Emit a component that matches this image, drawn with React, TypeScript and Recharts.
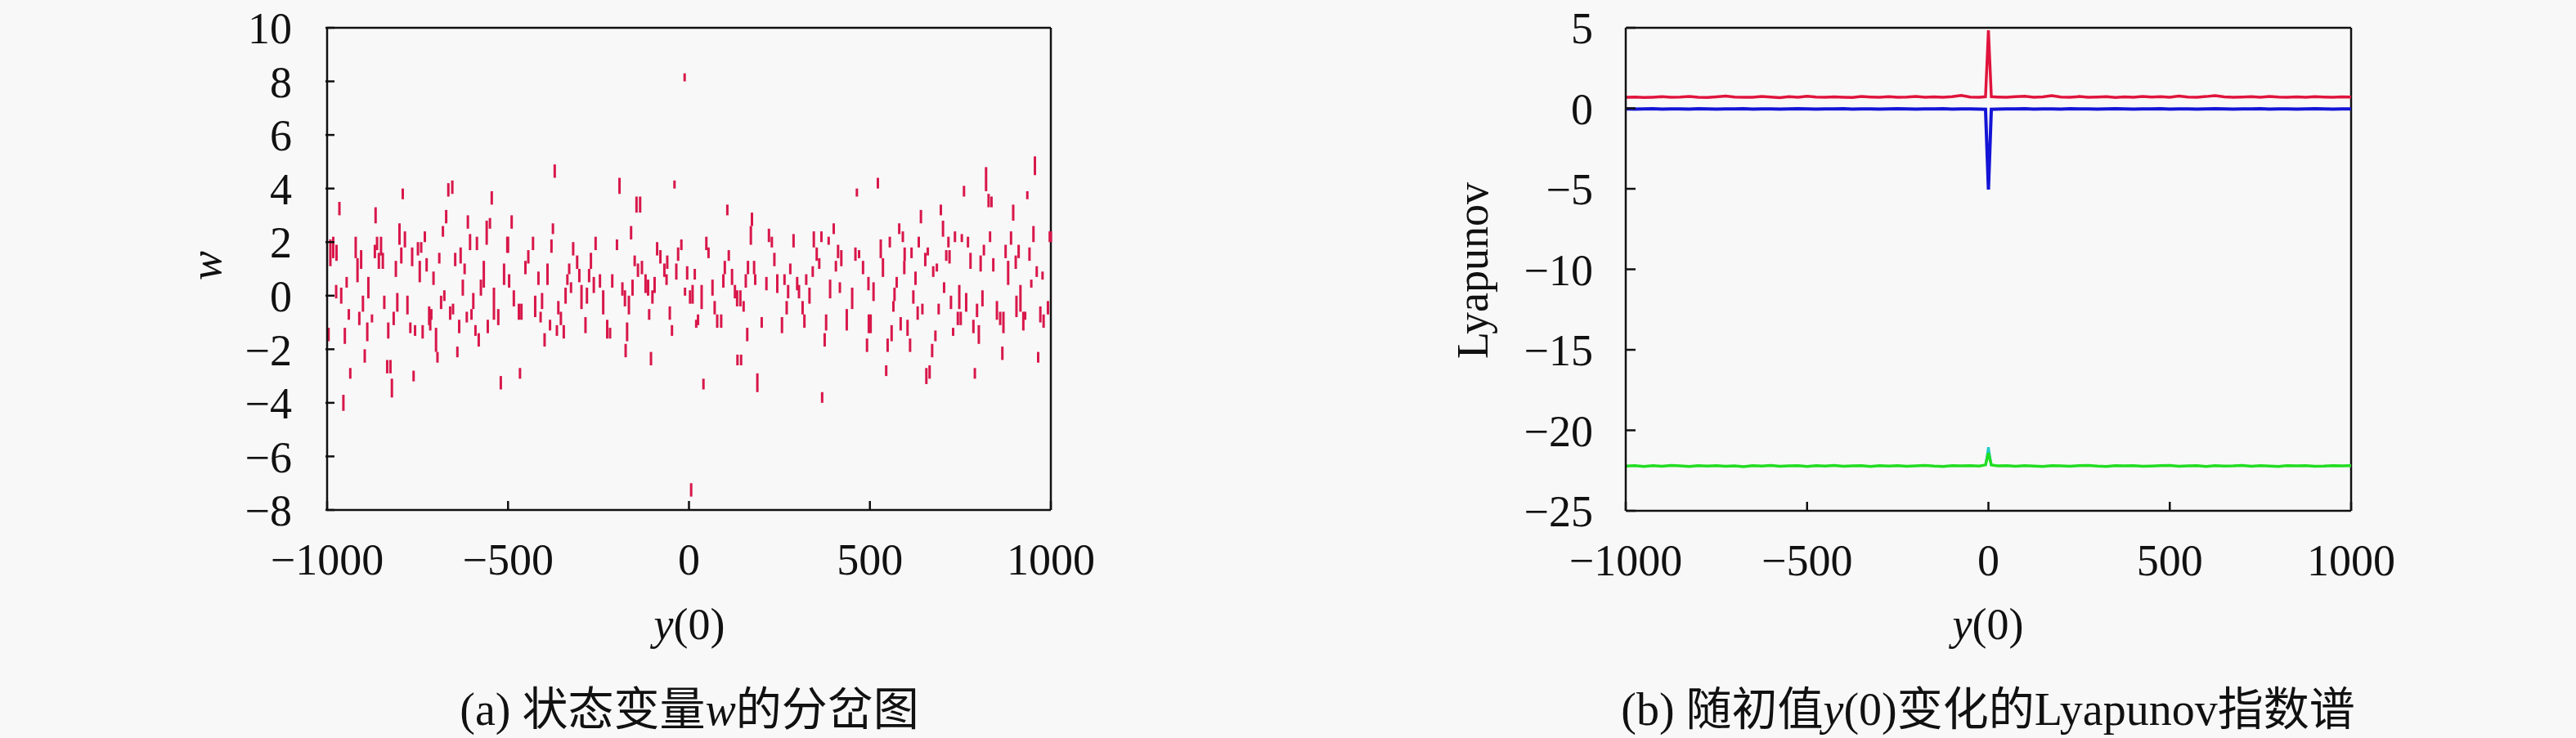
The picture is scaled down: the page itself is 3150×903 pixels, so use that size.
import {
  ScatterChart,
  Scatter,
  ErrorBar,
  LineChart,
  Line,
  XAxis,
  YAxis,
  ReferenceLine,
} from "recharts"

const xTicks = [-1000, -500, 0, 500, 1000]
const wTicks = [-8, -6, -4, -2, 0, 2, 4, 6, 8, 10]
const lyapTicks = [-25, -20, -15, -10, -5, 0, 5]

// bifurcation dashes: [y(0), w top, w bottom]
const dashesFarLeft = [
  [-966, 3.5, 3.0], [-866, 3.3, 2.7], [-791, 4.0, 3.6], [-665, 4.2, 3.7], [-654, 4.3, 3.8], [-545, 3.9, 3.4],
  [-991, 2.1, 1.1], [-983, 2.2, 1.4], [-974, 1.9, 1.3], [-921, 2.2, 1.4], [-906, 1.7, 1.0], [-916, 1.4, 0.5],
  [-862, 2.2, 1.7], [-851, 2.2, 1.5], [-846, 1.6, 1.0], [-868, 1.9, 1.4], [-857, 1.6, 1.0],
  [-800, 2.7, 1.9], [-785, 2.4, 1.8], [-795, 1.8, 1.2], [-810, 1.3, 0.7], [-765, 1.8, 1.1], [-749, 2.0, 1.5],
  [-740, 2.0, 1.6], [-744, 1.3, 0.5], [-730, 2.4, 2.0], [-725, 1.4, 0.9], [-706, 0.9, 0.4], [-690, 1.6, 1.2],
  [-680, 2.6, 2.2], [-671, 3.2, 2.7], [-646, 1.6, 1.1], [-631, 1.8, 1.2], [-620, 1.2, 0.8], [-611, 3.0, 2.5],
  [-605, 2.3, 1.7], [-586, 2.2, 1.7], [-559, 2.8, 1.9], [-550, 2.9, 2.5], [-567, 1.3, 0.3], [-575, 0.6, 0.0],
  [-502, 2.2, 1.6], [-511, 1.2, 0.4], [-625, 0.6, 0.0],
  [-975, 0.4, -0.1], [-961, 0.3, -0.3], [-946, 0.7, 0.3], [-886, 0.7, -0.1], [-901, 0.0, -0.6], [-911, -0.6, -1.1],
  [-889, -1.0, -1.7], [-876, -0.7, -1.0], [-940, -0.5, -0.9], [-842, 0.0, -0.5], [-831, -1.0, -1.6], [-816, -0.6, -1.1],
  [-806, 0.1, -0.6], [-778, 0.0, -0.7], [-770, -1.0, -1.4], [-757, -1.1, -1.5], [-736, -1.1, -1.6], [-718, -0.4, -1.1],
  [-712, -0.5, -0.9], [-715, -0.8, -1.3], [-699, -1.2, -2.1], [-695, -2.1, -2.5], [-685, 0.0, -0.5], [-676, 0.2, -0.2],
  [-660, -0.4, -0.9], [-652, -0.3, -0.7], [-635, -0.9, -1.4], [-614, -0.6, -1.0], [-601, -0.5, -0.9], [-596, 0.1, -0.5],
  [-590, -1.1, -1.5], [-581, -1.4, -1.9], [-556, -0.9, -1.4], [-539, 0.3, -0.9], [-527, -0.5, -1.1],
  [-996, -1.2, -1.7], [-951, -1.2, -1.8], [-896, -2.0, -2.5], [-936, -2.7, -3.1], [-834, -2.4, -2.9], [-825, -2.4, -2.9],
  [-821, -3.1, -3.8], [-761, -2.8, -3.2], [-640, -1.9, -2.3], [-520, -3.0, -3.5], [-955, -3.7, -4.3],
]

const dashesNearLeft = [
  [-371, 4.9, 4.4], [-192, 4.4, 3.8], [-40, 4.3, 4.0], [-145, 3.7, 3.1], [-135, 3.7, 3.1], [-490, 3.0, 2.5],
  [-376, 2.7, 2.3], [-380, 2.1, 1.6], [-160, 2.6, 2.1], [-500, 2.2, 1.6], [-431, 2.2, 1.7], [-444, 1.7, 1.2],
  [-452, 1.3, 0.8], [-258, 2.2, 1.7], [-199, 2.1, 1.7], [-320, 2.0, 1.5], [-309, 1.5, 1.0], [-303, 1.0, 0.5],
  [-297, 0.4, -0.5], [-271, 1.6, 1.0], [-276, 1.0, 0.5], [-331, 1.2, 0.8], [-336, 0.8, 0.4], [-341, 0.3, -0.3],
  [-326, 0.5, 0.1], [-391, 1.2, 0.4], [-416, 0.9, 0.4], [-497, 0.8, 0.3], [-484, 0.2, -0.4], [-470, -0.3, -0.9],
  [-463, -0.3, -0.9], [-425, 0.0, -0.8], [-406, 0.1, -0.5], [-410, -0.6, -1.0], [-399, -1.4, -1.9], [-384, -0.9, -1.3],
  [-361, -0.2, -0.7], [-354, -0.6, -1.1], [-365, -1.1, -1.5], [-346, -1.1, -1.6], [-286, -0.8, -1.4], [-282, 0.3, -0.3],
  [-263, 0.7, 0.1], [-246, 0.8, 0.3], [-237, 0.2, -0.7], [-212, 0.8, 0.3], [-226, -0.9, -1.6], [-218, -1.2, -1.6],
  [-184, 0.5, 0.0], [-177, 0.2, -0.4], [-166, 0.0, -0.7], [-156, 0.6, 0.0], [-171, -1.0, -1.7], [-175, -1.8, -2.3],
  [-150, 1.5, 1.1], [-141, 1.2, 0.7], [-130, 1.3, 0.8], [-120, 0.8, 0.1], [-113, 0.6, 0.0], [-101, 0.2, -0.3],
  [-95, 0.7, 0.1], [-110, -0.5, -0.9], [-105, -2.1, -2.6], [-88, 2.0, 1.5], [-79, 1.7, 1.2], [-68, 1.2, 0.7],
  [-62, 0.8, 0.4], [-60, 1.5, 1.0], [-30, 1.8, 1.3], [-21, 2.1, 1.7], [-35, 1.2, 0.6], [-5, 1.1, 0.6],
  [-11, 0.3, 0.0], [-53, -0.4, -0.9], [-47, -1.1, -1.5], [-467, -2.7, -3.1], [-12, 8.3, 8.0],
]

const dashesNearRight = [
  [464, 4.0, 3.7], [106, 3.4, 3.0], [174, 3.1, 2.6], [171, 2.6, 1.9], [221, 2.5, 2.0], [229, 2.2, 1.8],
  [289, 2.3, 1.8], [345, 2.4, 1.8], [366, 2.4, 2.0], [386, 2.2, 1.9], [400, 2.7, 2.3], [48, 2.2, 1.7],
  [54, 1.8, 1.4], [110, 1.7, 1.3], [16, 1.0, 0.6], [99, 1.3, 0.8], [95, 0.8, 0.3], [119, 1.0, 0.4],
  [127, 0.4, -0.1], [133, 0.2, -0.4], [142, 0.2, -0.4], [151, -0.2, -0.6], [163, 1.3, 0.8], [180, 1.3, 0.8],
  [157, 0.8, 0.3], [183, 0.8, 0.4], [214, 0.7, 0.2], [236, 1.6, 1.1], [244, 0.8, 0.1], [264, 0.8, 0.4],
  [274, 0.4, -0.1], [270, -0.2, -0.7], [280, 1.2, 0.8], [299, 0.7, 0.2], [304, 0.4, -0.1], [314, -0.2, -0.7],
  [324, 0.8, 0.4], [333, 0.3, -0.3], [342, 1.1, 0.7], [353, 1.8, 1.3], [360, 1.4, 1.0], [390, 0.6, -0.1],
  [412, 1.9, 1.4], [406, 1.3, 0.9], [421, 1.7, 1.1], [417, 0.5, 0.1], [460, 1.8, 1.3], [470, 1.7, 1.4],
  [481, 1.3, 0.8], [496, 0.7, 0.2], [451, 0.3, -0.5], [436, -0.5, -1.3], [10, 0.4, -0.3], [3, 0.2, -0.3],
  [35, 0.4, -0.5], [25, -0.7, -1.1], [20, -0.9, -1.2], [65, 0.6, 0.0], [71, -0.2, -0.7], [78, -0.7, -1.2],
  [89, -0.7, -1.2], [201, -0.8, -1.2], [257, -0.8, -1.4], [319, -0.7, -1.2], [379, -0.7, -1.3], [375, -1.4, -1.9],
  [492, -1.6, -2.1], [497, -0.7, -1.4], [161, -1.2, -1.7], [134, -2.2, -2.6], [144, -2.2, -2.6], [40, -3.1, -3.5],
  [189, -2.9, -3.6], [368, -3.6, -4.0], [6, -7.0, -7.5],
]

const dashesFarRight = [
  [956, 5.2, 4.5], [821, 4.8, 3.9], [828, 3.8, 3.3], [836, 3.7, 3.3], [522, 4.4, 4.0], [760, 4.1, 3.7],
  [935, 3.9, 3.6], [896, 3.4, 2.8], [641, 3.2, 2.7], [696, 3.4, 3.0], [702, 2.8, 2.2], [581, 2.7, 2.3],
  [591, 2.4, 2.0], [952, 2.6, 2.0], [997, 2.4, 2.0], [530, 2.1, 1.4], [555, 2.2, 1.8], [635, 2.2, 1.8],
  [735, 2.4, 2.0], [717, 2.2, 1.8], [754, 2.3, 2.0], [771, 2.2, 1.8], [832, 2.4, 2.0], [815, 1.9, 1.5],
  [890, 2.4, 1.9], [875, 1.9, 1.4], [911, 1.9, 1.4], [941, 1.8, 1.3], [596, 1.8, 1.3], [615, 1.8, 1.4],
  [536, 1.4, 0.7], [653, 1.6, 1.1], [660, 1.8, 1.5], [711, 1.7, 1.3], [720, 1.7, 1.2], [778, 1.6, 1.0],
  [806, 1.5, 0.9], [841, 1.4, 0.9], [675, 1.1, 0.7], [685, 1.2, 0.9], [882, 1.3, 0.4], [903, 1.5, 1.0],
  [961, 1.1, 0.7], [977, 0.9, 0.6], [626, 0.9, 0.4], [574, 0.7, 0.3], [568, 0.3, -0.2], [510, 0.5, -0.2],
  [595, 1.3, 0.8], [946, 0.6, 0.3], [916, 0.4, -0.6], [905, 0.0, -0.8], [705, 0.5, 0.1], [747, 0.4, -0.5],
  [766, 0.1, -0.6], [724, 0.0, -0.5], [811, 0.2, -0.4], [620, 0.2, -0.3], [565, -0.2, -0.6], [632, -0.4, -0.9],
  [645, -0.3, -0.7], [690, -0.3, -0.7], [743, -0.6, -1.1], [751, -0.6, -1.1], [796, -0.3, -0.8], [851, -0.2, -0.9],
  [860, -0.6, -1.1], [869, -0.6, -1.4], [924, -0.6, -1.3], [929, -0.6, -0.9], [971, -0.4, -1.0], [980, -0.7, -1.2],
  [992, -0.2, -0.7], [502, -0.7, -1.4], [585, -0.8, -1.3], [604, -0.9, -1.5], [560, -1.1, -1.7], [611, -1.6, -2.1],
  [549, -1.6, -2.1], [681, -1.3, -1.7], [672, -1.8, -2.3], [730, -1.2, -1.5], [786, -0.9, -1.4], [801, -1.1, -1.8],
  [866, -1.9, -2.4], [965, -2.1, -2.5], [545, -2.6, -3.0], [656, -2.7, -3.3], [665, -2.6, -3.1], [790, -2.7, -3.1],
  [1000, 2.4, 2.0],
]

// Lyapunov spectrum sampled along y(0)
const y0Samples = [
  -1000, -975, -950, -925, -900, -875, -850, -825, -800, -775, -750, -725, -700, -675, -650, -625, -600, -575, -550, -525,
  -500, -475, -450, -425, -400, -375, -350, -325, -300, -275, -250, -225, -200, -175, -150, -125, -100, -75, -50, -25,
  -8, 0, 8,
  25, 50, 75, 100, 125, 150, 175, 200, 225, 250, 275, 300, 325, 350, 375, 400, 425, 450, 475, 500,
  525, 550, 575, 600, 625, 650, 675, 700, 725, 750, 775, 800, 825, 850, 875, 900, 925, 950, 975, 1000,
]
const lyap1 = [
  0.68, 0.70, 0.67, 0.69, 0.72, 0.68, 0.70, 0.74, 0.69, 0.67, 0.71, 0.76, 0.70, 0.68, 0.69, 0.73, 0.70, 0.66, 0.72, 0.69,
  0.75, 0.70, 0.68, 0.71, 0.69, 0.67, 0.73, 0.70, 0.68, 0.72, 0.69, 0.70, 0.74, 0.68, 0.71, 0.69, 0.72, 0.80, 0.70, 0.69,
  0.72, 4.85, 0.72,
  0.70, 0.68, 0.72, 0.75, 0.69, 0.71, 0.78, 0.70, 0.68, 0.73, 0.69, 0.70, 0.72, 0.67, 0.71, 0.69, 0.74, 0.70, 0.72, 0.68,
  0.76, 0.70, 0.69, 0.73, 0.79, 0.71, 0.68, 0.70, 0.72, 0.69, 0.74, 0.70, 0.68, 0.71, 0.69, 0.72, 0.70, 0.68, 0.71, 0.70,
]
const lyap2 = [
  -0.04, -0.05, -0.04, -0.03, -0.05, -0.04, -0.04, -0.05, -0.03, -0.04, -0.05, -0.04, -0.04, -0.03, -0.05, -0.04, -0.04, -0.05, -0.04, -0.03,
  -0.04, -0.05, -0.04, -0.04, -0.03, -0.05, -0.04, -0.04, -0.05, -0.04, -0.03, -0.04, -0.05, -0.04, -0.04, -0.03, -0.05, -0.04, -0.04, -0.05,
  -0.06, -5.05, -0.06,
  -0.05, -0.04, -0.04, -0.03, -0.05, -0.04, -0.04, -0.05, -0.03, -0.04, -0.04, -0.05, -0.04, -0.03, -0.04, -0.05, -0.04, -0.04, -0.03, -0.05,
  -0.04, -0.04, -0.05, -0.04, -0.03, -0.04, -0.05, -0.04, -0.04, -0.03, -0.05, -0.04, -0.04, -0.05, -0.04, -0.03, -0.04, -0.05, -0.04, -0.04,
]
const lyap3 = [
  -22.22, -22.19, -22.24, -22.20, -22.23, -22.18, -22.21, -22.25, -22.20, -22.22, -22.19, -22.23, -22.21, -22.26, -22.20, -22.22, -22.18, -22.23, -22.21, -22.19,
  -22.24, -22.20, -22.22, -22.18, -22.23, -22.21, -22.20, -22.25, -22.19, -22.22, -22.20, -22.23, -22.21, -22.18, -22.22, -22.24, -22.20, -22.21, -22.19, -22.22,
  -22.15, -21.40, -22.15,
  -22.21, -22.19, -22.23, -22.20, -22.22, -22.25, -22.19, -22.21, -22.23, -22.20, -22.18, -22.22, -22.24, -22.20, -22.21, -22.19, -22.23, -22.22, -22.20, -22.18,
  -22.23, -22.21, -22.19, -22.24, -22.20, -22.22, -22.21, -22.18, -22.23, -22.20, -22.22, -22.25, -22.19, -22.21, -22.20, -22.23, -22.22, -22.19, -22.21, -22.20,
]
const lyap3SpikeX = [-8, 0, 8]
const lyap3Spike = [-22.2, -21.05, -22.2]

const dashRows = [...dashesFarLeft, ...dashesNearLeft, ...dashesNearRight, ...dashesFarRight].map(
  ([x, hi, lo]) => ({ x, w: hi, err: [hi - lo, 0] })
)
const lyapRows = y0Samples.map((x, i) => ({ x, l1: lyap1[i], l2: lyap2[i], l3: lyap3[i] }))
const spikeRows = lyap3SpikeX.map((x, i) => ({ x, l3: lyap3Spike[i] }))

const serif = "'Liberation Serif', 'Noto Sans CJK SC', serif"
const ink = "#111"
const fmt = (v: number) => (v < 0 ? `\u2212${-v}` : `${v}`)
const axisStroke = { stroke: ink, strokeWidth: 2.5 }
const TICK_GAP = 41
const TICK_LEN = 11

// tick label plus an inward tick mark
function BottomTick({ x, y, payload }: any) {
  const top = y - TICK_GAP
  return (
    <g>
      <line x1={x} x2={x} y1={top} y2={top - TICK_LEN} stroke={ink} strokeWidth={2.5} />
      <text x={x} y={y} dy="0.71em" textAnchor="middle" fill={ink} fontSize={54} fontFamily={serif}>
        {fmt(payload.value)}
      </text>
    </g>
  )
}

function LeftTick({ x, y, payload }: any) {
  const edge = x + TICK_GAP
  return (
    <g>
      <line x1={edge} x2={edge + TICK_LEN} y1={y} y2={y} stroke={ink} strokeWidth={2.5} />
      <text x={x} y={y} dy="0.355em" textAnchor="end" fill={ink} fontSize={54} fontFamily={serif}>
        {fmt(payload.value)}
      </text>
    </g>
  )
}

function Text({ x, y, rotate, size = 54, children }: { x: number; y: number; rotate?: boolean; size?: number; children: any }) {
  return (
    <div
      style={{
        position: "absolute",
        left: x,
        top: y,
        transform: `translate(-50%, -50%)${rotate ? " rotate(-90deg)" : ""}`,
        whiteSpace: "nowrap",
        fontFamily: serif,
        fontSize: size,
        lineHeight: `${size + 6}px`,
        color: ink,
      }}
    >
      {children}
    </div>
  )
}

function BifurcationChart() {
  return (
    <ScatterChart width={1400} height={720} margin={{ top: 34, right: 115, bottom: 0, left: 0 }}>
      <XAxis
        dataKey="x"
        type="number"
        domain={[-1000, 1000]}
        ticks={xTicks}
        interval={0}
        height={96}
        tickSize={0}
        tickMargin={TICK_GAP}
        tick={<BottomTick />}
        tickLine={false}
        axisLine={axisStroke}
      />
      <YAxis
        dataKey="w"
        type="number"
        domain={[-8, 10]}
        ticks={wTicks}
        interval={0}
        width={400}
        tickSize={0}
        tickMargin={TICK_GAP + 2}
        tick={<LeftTick />}
        tickLine={false}
        axisLine={axisStroke}
      />
      <ReferenceLine y={10} stroke={ink} strokeWidth={2.5} />
      <ReferenceLine x={1000} stroke={ink} strokeWidth={2.5} />
      <Scatter data={dashRows} shape={() => <g />} isAnimationActive={false}>
        <ErrorBar dataKey="err" direction="y" width={0} stroke="#d8174a" strokeWidth={3} isAnimationActive={false} />
      </Scatter>
    </ScatterChart>
  )
}

function LyapunovChart() {
  return (
    <LineChart width={1420} height={720} data={lyapRows} margin={{ top: 34, right: 133, bottom: 0, left: 0 }}>
      <XAxis
        dataKey="x"
        type="number"
        domain={[-1000, 1000]}
        ticks={xTicks}
        interval={0}
        height={95}
        tickSize={0}
        tickMargin={TICK_GAP}
        tick={<BottomTick />}
        tickLine={false}
        axisLine={axisStroke}
      />
      <YAxis
        type="number"
        domain={[-25, 5]}
        ticks={lyapTicks}
        interval={0}
        width={400}
        tickSize={0}
        tickMargin={TICK_GAP - 1}
        tick={<LeftTick />}
        tickLine={false}
        axisLine={axisStroke}
      />
      <ReferenceLine y={5} stroke={ink} strokeWidth={2.5} />
      <ReferenceLine x={1000} stroke={ink} strokeWidth={2.5} />
      <Line data={spikeRows} dataKey="l3" stroke="#20c8c8" strokeWidth={3} dot={false} isAnimationActive={false} />
      <Line dataKey="l3" stroke="#22dd22" strokeWidth={3.5} dot={false} isAnimationActive={false} />
      <Line dataKey="l2" stroke="#1414d6" strokeWidth={4} dot={false} isAnimationActive={false} />
      <Line dataKey="l1" stroke="#e0143c" strokeWidth={3.5} dot={false} isAnimationActive={false} />
    </LineChart>
  )
}

export default function App() {
  return (
    <div style={{ position: "absolute", left: 0, top: 0, width: 3150, height: 903, background: "#f8f8f8", overflow: "hidden" }}>
      <div style={{ position: "absolute", left: 0, top: 0 }}>
        <BifurcationChart />
      </div>
      <div style={{ position: "absolute", left: 1588, top: 0 }}>
        <LyapunovChart />
      </div>
      <Text x={252} y={325} rotate>
        <i>w</i>
      </Text>
      <Text x={1801} y={331} rotate>
        Lyapunov
      </Text>
      <Text x={843} y={764}>
        <i>y</i>(0)
      </Text>
      <Text x={2431} y={764}>
        <i>y</i>(0)
      </Text>
      <Text x={843} y={868} size={56}>
        (a) 状态变量<i>w</i>的分岔图
      </Text>
      <Text x={2431} y={868} size={56}>
        (b) 随初值<i>y</i>(0)变化的Lyapunov指数谱
      </Text>
    </div>
  )
}
